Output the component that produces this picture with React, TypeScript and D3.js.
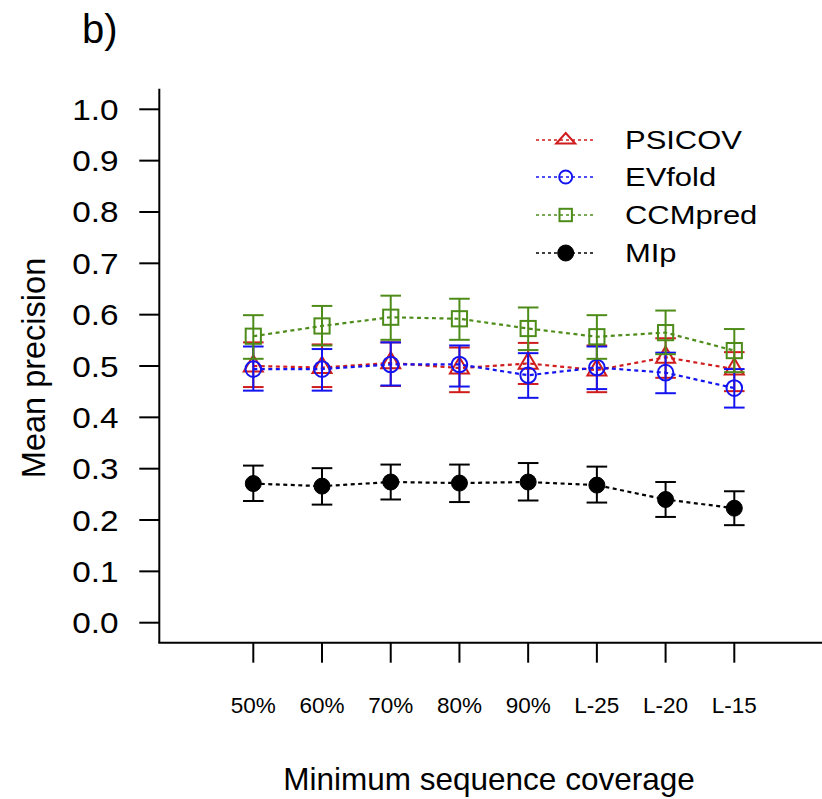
import React from "react";
import * as d3 from "d3";

const categories = ["50%", "60%", "70%", "80%", "90%", "L-25", "L-20", "L-15"];
const yTicks = [0, 0.1, 0.2, 0.3, 0.4, 0.5, 0.6, 0.7, 0.8, 0.9, 1.0];

const psicov = [0.5, 0.497, 0.506, 0.496, 0.505, 0.492, 0.517, 0.494];
const psicovLo = [0.459, 0.459, 0.461, 0.449, 0.465, 0.449, 0.477, 0.451];
const psicovHi = [0.546, 0.542, 0.546, 0.536, 0.545, 0.54, 0.554, 0.527];

const evfold = [0.494, 0.494, 0.503, 0.503, 0.482, 0.497, 0.487, 0.457];
const evfoldLo = [0.452, 0.452, 0.462, 0.46, 0.438, 0.455, 0.447, 0.419];
const evfoldHi = [0.538, 0.533, 0.546, 0.54, 0.525, 0.538, 0.526, 0.494];

const ccmpred = [0.558, 0.578, 0.595, 0.592, 0.573, 0.557, 0.565, 0.53];
const ccmpredLo = [0.514, 0.54, 0.551, 0.551, 0.531, 0.514, 0.523, 0.488];
const ccmpredHi = [0.599, 0.617, 0.637, 0.631, 0.614, 0.599, 0.608, 0.572];

const mip = [0.271, 0.266, 0.274, 0.272, 0.274, 0.268, 0.24, 0.223];
const mipLo = [0.237, 0.23, 0.24, 0.235, 0.238, 0.234, 0.206, 0.19];
const mipHi = [0.306, 0.301, 0.308, 0.308, 0.311, 0.304, 0.274, 0.256];

const seriesNames = ["PSICOV", "EVfold", "CCMpred", "MIp"];
const seriesColors = ["#d01c1c", "#1414f0", "#4e8c1a", "#000000"];
const seriesShapes = ["triangle", "circle", "square", "dot"];

const series = [
  { name: seriesNames[0], values: psicov, lo: psicovLo, hi: psicovHi, color: seriesColors[0], shape: seriesShapes[0] },
  { name: seriesNames[1], values: evfold, lo: evfoldLo, hi: evfoldHi, color: seriesColors[1], shape: seriesShapes[1] },
  { name: seriesNames[2], values: ccmpred, lo: ccmpredLo, hi: ccmpredHi, color: seriesColors[2], shape: seriesShapes[2] },
  { name: seriesNames[3], values: mip, lo: mipLo, hi: mipHi, color: seriesColors[3], shape: seriesShapes[3] },
];

const FONT = "'Liberation Sans', Arial, Helvetica, sans-serif";

function Marker({ shape, cx, cy, color, legend }: { shape: string; cx: number; cy: number; color: string; legend?: boolean }) {
  const sw = 2;
  if (shape === "triangle") {
    const r = legend ? 7 : 10.8;
    const hw = legend ? 9.5 : 9.5;
    const pts = [
      [cx, cy - r],
      [cx + hw, cy + r / 2],
      [cx - hw, cy + r / 2],
    ];
    return <polygon points={pts.map((p) => p.join(",")).join(" ")} fill="none" stroke={color} strokeWidth={sw} />;
  }
  if (shape === "circle") {
    const r = legend ? 6.5 : 7.8;
    return <circle cx={cx} cy={cy} r={r} fill="none" stroke={color} strokeWidth={sw} />;
  }
  if (shape === "square") {
    const h = legend ? 6.2 : 7.6;
    return <rect x={cx - h} y={cy - h} width={2 * h} height={2 * h} fill="none" stroke={color} strokeWidth={sw} />;
  }
  const r = 8;
  return <circle cx={cx} cy={cy} r={r} fill={color} stroke={color} strokeWidth={1} />;
}

export default function App() {
  const W = 822;
  const H = 799;
  const xAxisLeft = 159.3;
  const xAxisY = 642.7;
  const x = d3.scaleLinear().domain([0, categories.length - 1]).range([253.3, 734.3]);
  const y = d3.scaleLinear().domain([0, 1]).range([622.7, 109.3]);
  const yTop = y(1.04);

  const line = d3
    .line<number>()
    .x((_, i) => x(i))
    .y((d) => y(d));

  const legendRows = [140, 177, 215, 253];

  return (
    <div style={{ position: "absolute", left: 0, top: 0 }}>
      <svg width={W} height={H} style={{ display: "block", background: "#fff" }} fontFamily={FONT}>
        <rect x={0} y={0} width={W} height={H} fill="#fff" />
        <text x={82} y={43} fontSize={40} fill="#000">b)</text>

        {/* axes */}
        <line x1={xAxisLeft} x2={xAxisLeft} y1={yTop} y2={xAxisY} stroke="#000" strokeWidth={2} />
        <line x1={xAxisLeft - 1} x2={W} y1={xAxisY} y2={xAxisY} stroke="#000" strokeWidth={2} />
        {yTicks.map((t) => (
          <g key={t}>
            <line x1={139.3} x2={xAxisLeft} y1={y(t)} y2={y(t)} stroke="#000" strokeWidth={2} />
            <text
              transform={`translate(118.5,${y(t) + 10.5}) scale(1.15,1)`}
              textAnchor="end"
              fontSize={29}
              fill="#000"
            >
              {t.toFixed(1)}
            </text>
          </g>
        ))}
        {categories.map((c, i) => (
          <g key={c}>
            <line x1={x(i)} x2={x(i)} y1={xAxisY} y2={662.7} stroke="#000" strokeWidth={2} />
            <text x={x(i)} y={713.3} textAnchor="middle" fontSize={22.5} fill="#000">
              {c}
            </text>
          </g>
        ))}
        <text x={489} y={790} textAnchor="middle" fontSize={31.5} fill="#000">
          Minimum sequence coverage
        </text>
        <text transform={`translate(45,368) rotate(-90)`} textAnchor="middle" fontSize={32.5} fill="#000">
          Mean precision
        </text>

        {/* series */}
        {series.map((s) => (
          <g key={s.name}>
            <path d={line(s.values) || ""} fill="none" stroke={s.color} strokeWidth={2.2} strokeDasharray="4,3.5" />
            {s.values.map((v, i) => (
              <g key={i}>
                <line x1={x(i)} x2={x(i)} y1={y(s.lo[i])} y2={y(s.hi[i])} stroke={s.color} strokeWidth={2} />
                <line x1={x(i) - 10.3} x2={x(i) + 10.3} y1={y(s.lo[i])} y2={y(s.lo[i])} stroke={s.color} strokeWidth={2} />
                <line x1={x(i) - 10.3} x2={x(i) + 10.3} y1={y(s.hi[i])} y2={y(s.hi[i])} stroke={s.color} strokeWidth={2} />
                <Marker shape={s.shape} cx={x(i)} cy={y(v)} color={s.color} />
              </g>
            ))}
          </g>
        ))}

        {/* legend */}
        {series.map((s, k) => (
          <g key={s.name}>
            <line x1={536} x2={595} y1={legendRows[k]} y2={legendRows[k]} stroke={s.color} strokeWidth={1.5} strokeDasharray="3,3" />
            <Marker shape={s.shape} cx={565.7} cy={legendRows[k]} color={s.color} legend />
            <text transform={`translate(625,${legendRows[k] + 9}) scale(1.19,1)`} fontSize={26} fill="#000">
              {s.name}
            </text>
          </g>
        ))}
      </svg>
    </div>
  );
}
